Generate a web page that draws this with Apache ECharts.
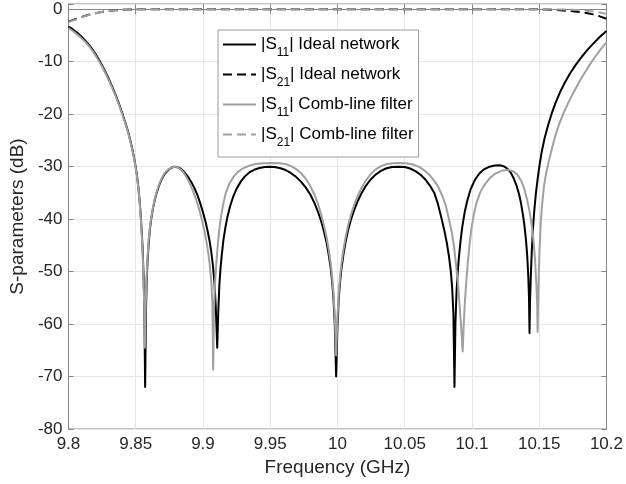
<!DOCTYPE html>
<html>
<head>
<meta charset="utf-8">
<script src="https://cdn.jsdelivr.net/npm/echarts@6/dist/echarts.min.js"></script>
<style>
html,body{margin:0;padding:0;background:#fff;}
#chart{width:626px;height:484px;}
</style>
</head>
<body>
<div id="chart"></div>
<script>
// ---- Data ----
const xTicks = [9.8, 9.85, 9.9, 9.95, 10, 10.05, 10.1, 10.15, 10.2];
const yTicks = [-80, -70, -60, -50, -40, -30, -20, -10, 0];

const seriesNames = ['S11 Ideal network', 'S21 Ideal network', 'S11 Comb-line filter', 'S21 Comb-line filter'];

// |S11| ideal network (black solid)
const s11IdealF = [
  9.800,9.8025,9.805,9.8075,9.810,9.8125,9.815,9.8175,9.820,9.8225,9.825,9.8275,9.830,9.8325,9.835,9.8375,9.840,9.8415,9.843,9.8445,9.846,9.8475,9.849,9.850,9.851,9.852,9.853,9.8538,9.8545,9.8552,9.8558,9.8564,9.857,
  9.8576,9.8582,9.8589,9.8597,9.8605,9.8615,9.8628,9.8642,9.8658,9.8675,9.8695,9.8715,9.874,9.8765,9.8785,9.881,9.8835,9.886,9.8885,9.891,9.8935,9.896,9.898,9.900,9.902,9.9035,9.905,9.9062,9.9074,9.9085,9.9095,9.9106,
  9.9114,9.9122,9.913,9.914,9.9152,9.9166,9.918,9.920,9.9225,9.925,9.928,9.931,9.9345,9.938,9.942,9.946,9.9495,9.953,9.957,9.961,9.965,9.969,9.973,9.9765,9.980,9.983,9.9855,9.988,9.990,9.992,9.9935,9.995,9.996,9.997,9.998,9.999,
  10.000,10.001,10.002,10.003,10.0045,10.006,10.008,10.010,10.0125,10.015,10.018,10.021,10.0245,10.028,10.032,10.036,10.0405,10.0455,10.050,10.054,10.058,10.062,10.0655,10.069,10.072,10.0748,10.0775,10.0795,10.0815,10.083,10.0843,10.0853,10.0862,10.087,
  10.0877,10.0885,10.0893,10.0903,10.0915,10.0928,10.0945,10.0965,10.099,10.102,10.1055,10.109,10.113,10.117,10.1208,10.1238,10.1265,10.129,10.131,10.133,10.135,10.1365,10.1378,10.139,10.1401,10.1411,10.1419,10.1424,10.1428,
  10.1432,10.1438,10.1445,10.1453,10.1463,10.1475,10.149,10.1505,10.152,10.154,10.1565,10.159,10.162,10.1655,10.169,10.173,10.177,10.1815,10.186,10.1905,10.195,10.200];
const s11IdealV = [
  -3.3,-3.7,-4.2,-4.7,-5.3,-6.0,-6.7,-7.55,-8.5,-9.55,-10.7,-11.95,-13.3,-14.75,-16.3,-18.0,-19.8,-21.0,-22.2,-23.5,-25.0,-26.7,-28.6,-30.1,-31.8,-34.0,-36.8,-39.6,-42.5,-46.0,-50.5,-57.0,-72.0,
  -57.5,-51.5,-47.5,-44.5,-42.0,-40.0,-38.0,-36.3,-34.8,-33.5,-32.3,-31.4,-30.7,-30.2,-30.0,-30.1,-30.4,-31.0,-31.8,-32.8,-34.0,-35.5,-37.0,-38.7,-40.6,-42.3,-44.3,-46.3,-48.8,-52.0,-56.5,-64.5,
  -57.5,-52.5,-49.5,-46.8,-44.0,-41.7,-39.8,-37.7,-35.7,-34.2,-32.9,-31.9,-31.1,-30.6,-30.25,-30.05,-30.0,-30.05,-30.25,-30.6,-31.15,-31.9,-32.9,-34.0,-35.4,-37.0,-38.6,-40.5,-42.4,-44.6,-46.8,-49.4,-51.8,-55.0,-60.0,-70.0,
  -60.5,-55.0,-51.8,-49.4,-46.6,-44.4,-42.0,-40.1,-38.2,-36.6,-35.0,-33.7,-32.5,-31.6,-30.85,-30.35,-30.07,-30.0,-30.08,-30.35,-30.85,-31.6,-32.5,-33.7,-35.0,-37.2,-40.0,-42.2,-44.8,-47.3,-50.0,-53.2,-58.0,-72.0,
  -60.0,-54.0,-50.5,-47.3,-44.2,-41.5,-38.8,-36.5,-34.3,-32.6,-31.3,-30.5,-30.0,-29.8,-29.75,-29.95,-30.4,-31.2,-32.2,-33.5,-35.2,-37.0,-39.0,-41.2,-43.8,-47.0,-51.0,-55.0,-61.7,
  -55.5,-50.5,-46.0,-42.0,-38.5,-35.2,-32.0,-29.3,-27.0,-24.6,-22.2,-20.1,-17.95,-15.8,-14.0,-12.2,-10.65,-9.1,-7.7,-6.45,-5.3,-4.15];

// |S21| ideal network (black dashed)
const s21IdealF = [9.800,9.8025,9.805,9.8075,9.810,9.8125,9.815,9.8175,9.820,9.825,9.830,9.835,9.840,9.845,9.850,9.860,9.900,9.950,10.000,10.050,10.100,10.140,10.150,10.155,10.160,10.165,10.170,10.175,10.180,10.185,10.190,10.195,10.200];
const s21IdealV = [-2.4,-2.13,-1.9,-1.66,-1.45,-1.24,-1.05,-0.89,-0.75,-0.5,-0.32,-0.2,-0.11,-0.05,-0.02,0,0,0,0,0,0,0,-0.02,-0.05,-0.1,-0.17,-0.27,-0.38,-0.52,-0.72,-0.98,-1.35,-1.8];

// |S11| comb-line filter (grey solid)
const s11CombF = [
  9.800,9.8025,9.805,9.8075,9.810,9.8125,9.815,9.8175,9.820,9.8225,9.825,9.8275,9.830,9.8325,9.835,9.8375,9.840,9.8415,9.843,9.8445,9.846,9.8475,9.849,9.850,9.851,9.852,9.853,9.8538,9.8545,9.8552,9.8558,9.8563,9.8568,
  9.8574,9.858,9.8588,9.8596,9.8605,9.8615,9.8628,9.8642,9.8658,9.8675,9.8695,9.8715,9.874,9.8765,9.879,9.8812,9.8835,9.8858,9.888,9.8902,9.8925,9.8948,9.897,9.8985,9.900,9.9015,9.903,9.9042,9.9053,9.9062,9.907,9.9076,
  9.9082,9.909,9.9099,9.9109,9.912,9.9133,9.915,9.917,9.9195,9.9225,9.926,9.930,9.9345,9.939,9.945,9.951,9.957,9.962,9.966,9.970,9.9735,9.977,9.980,9.983,9.9855,9.988,9.990,9.992,9.9935,9.995,9.996,9.997,9.998,9.999,
  10.000,10.001,10.002,10.003,10.0045,10.006,10.008,10.010,10.0125,10.015,10.018,10.021,10.0245,10.028,10.032,10.036,10.041,10.047,10.052,10.057,10.061,10.065,10.0685,10.072,10.075,10.078,10.0805,10.0829,10.085,10.0867,10.0882,10.0895,10.0907,10.0918,10.0931,
  10.0939,10.0948,10.0958,10.097,10.0983,10.0997,10.1015,10.1035,10.106,10.108,10.111,10.114,10.1175,10.122,10.1268,10.1305,10.134,10.1368,10.139,10.141,10.1428,10.1444,10.1458,10.147,10.1479,10.1485,10.1488,
  10.1492,10.1497,10.1503,10.1512,10.1523,10.1537,10.1553,10.1572,10.1595,10.162,10.1648,10.168,10.1715,10.175,10.179,10.183,10.1875,10.1915,10.1955,10.200];
const s11CombV = [
  -3.6,-4.0,-4.5,-5.0,-5.6,-6.25,-6.95,-7.8,-8.75,-9.8,-10.95,-12.2,-13.55,-15.0,-16.55,-18.2,-20.0,-21.2,-22.4,-23.7,-25.2,-26.9,-28.8,-30.3,-32.0,-34.3,-37.1,-40.0,-43.0,-46.8,-51.5,-56.5,-64.5,
  -57.0,-51.5,-47.2,-44.2,-41.7,-39.8,-37.8,-36.1,-34.6,-33.3,-32.1,-31.2,-30.55,-30.15,-30.0,-30.15,-30.55,-31.2,-32.1,-33.2,-34.6,-36.2,-38.0,-39.4,-41.0,-42.8,-44.9,-46.9,-49.3,-52.0,-56.0,-68.7,
  -57.0,-52.0,-48.5,-45.3,-42.3,-39.7,-37.2,-35.0,-33.3,-32.0,-31.0,-30.3,-29.8,-29.5,-29.33,-29.3,-29.35,-29.55,-29.95,-30.6,-31.4,-32.5,-33.8,-35.4,-37.1,-39.2,-41.2,-43.6,-45.8,-48.5,-50.8,-54.0,-58.5,-66.0,
  -58.5,-54.0,-50.8,-48.4,-45.7,-43.5,-41.1,-39.2,-37.2,-35.6,-34.0,-32.7,-31.5,-30.6,-29.95,-29.55,-29.35,-29.3,-29.38,-29.65,-30.1,-30.8,-31.6,-32.7,-33.9,-35.6,-37.4,-40.0,-42.5,-45.3,-48.8,-52.0,-56.0,-59.8,-65.2,
  -60.0,-55.5,-51.8,-48.0,-44.6,-41.6,-39.0,-36.8,-35.0,-34.0,-32.9,-32.0,-31.3,-30.8,-30.6,-30.85,-31.6,-32.8,-34.3,-36.3,-38.5,-41.0,-44.2,-48.0,-52.5,-56.5,-61.5,
  -56.0,-50.5,-45.5,-40.5,-36.8,-33.4,-31.1,-28.9,-26.5,-24.1,-21.9,-19.85,-17.9,-16.1,-14.2,-12.45,-10.6,-9.1,-7.7,-6.3];

// |S21| comb-line filter (grey dashed)
const s21CombF = [9.800,9.8025,9.805,9.8075,9.810,9.8125,9.815,9.8175,9.820,9.825,9.830,9.835,9.840,9.845,9.850,9.860,9.900,9.950,10.000,10.050,10.100,10.150,10.160,10.165,10.170,10.175,10.180,10.185,10.190,10.195,10.200];
const s21CombV = [-2.5,-2.22,-2.0,-1.74,-1.5,-1.29,-1.1,-0.93,-0.78,-0.52,-0.33,-0.21,-0.11,-0.05,-0.02,0,0,0,0,0,0,0,-0.02,-0.04,-0.07,-0.11,-0.18,-0.28,-0.42,-0.62,-0.88];

// ---- Chart ----
const pairs = (f, v) => f.map((x, i) => [x, v[i]]);
const FONT = '"Liberation Sans", Arial, Helvetica, sans-serif';
const BLACK = '#000000';
const GREY = '#a0a0a0';
const AXIS = '#858585';
const GRID = '#e6e6e6';

const legendLabels = {
  'S11 Ideal network': '|S{s|11}| Ideal network',
  'S21 Ideal network': '|S{s|21}| Ideal network',
  'S11 Comb-line filter': '|S{s|11}| Comb-line filter',
  'S21 Comb-line filter': '|S{s|21}| Comb-line filter'
};

const chart = echarts.init(document.getElementById('chart'), null, {renderer: 'canvas'});
const xMin = xTicks[0], xMax = xTicks[xTicks.length - 1];
const yMin = yTicks[0];

const tickFmtX = v => String(+v.toFixed(2));
const tickFmtY = v => (v > 0.5 ? '' : String(Math.round(v)));

function mkLine(name, data, color, dashed) {
  return {
    name, type: 'line', data, xAxisIndex: 0, yAxisIndex: 0,
    showSymbol: false, symbol: 'none', symbolSize: 0, sampling: null, clip: true,
    smooth: false,
    lineStyle: {color, width: 2, type: dashed ? [9, 5] : 'solid', join: 'round', cap: 'butt'},
    itemStyle: {color},
    z: 3
  };
}

chart.setOption({
  animation: false,
  backgroundColor: '#ffffff',
  textStyle: {fontFamily: FONT},
  grid: {left: 62.5, right: 18, top: 4, bottom: 55, show: true, borderColor: AXIS, borderWidth: 1, backgroundColor: 'transparent'},
  xAxis: [{
    type: 'value', min: xMin, max: xMax, interval: 0.05,
    name: 'Frequency (GHz)', nameLocation: 'middle', nameGap: 27,
    nameTextStyle: {fontSize: 19, color: '#262626', fontFamily: FONT},
    axisLine: {show: true, lineStyle: {color: AXIS, width: 1}},
    axisTick: {show: true, inside: true, length: 5, lineStyle: {color: AXIS}},
    axisLabel: {fontSize: 17, color: '#262626', margin: 7, formatter: tickFmtX, fontFamily: FONT},
    splitLine: {show: true, lineStyle: {color: GRID, width: 1}}
  }, {
    type: 'value', min: xMin, max: xMax, interval: 0.05, position: 'top',
    axisLine: {show: true, lineStyle: {color: AXIS}},
    axisTick: {show: true, inside: true, length: 5, lineStyle: {color: AXIS}},
    axisLabel: {show: false}, splitLine: {show: false}
  }],
  yAxis: [{
    type: 'value', min: yMin, max: 1, interval: 10,
    name: 'S-parameters (dB)', nameLocation: 'middle', nameGap: 40, nameRotate: 90,
    nameTextStyle: {fontSize: 19, color: '#262626', fontFamily: FONT},
    axisLine: {show: true, lineStyle: {color: AXIS, width: 1}},
    axisTick: {show: true, inside: true, length: 5, lineStyle: {color: AXIS}},
    axisLabel: {fontSize: 17, color: '#262626', margin: 6, formatter: tickFmtY, fontFamily: FONT},
    splitLine: {show: true, lineStyle: {color: GRID, width: 1}}
  }, {
    type: 'value', min: yMin, max: 1, interval: 10, position: 'right',
    axisLine: {show: true, lineStyle: {color: AXIS}},
    axisTick: {show: true, inside: true, length: 5, lineStyle: {color: AXIS}},
    axisLabel: {show: false}, splitLine: {show: false}
  }],
  legend: {
    show: true, orient: 'vertical', left: 218, top: 30,
    data: seriesNames, selectedMode: false,
    itemWidth: 33, itemHeight: 14, itemGap: 1,
    padding: [0, 5, 8, 4],
    itemStyle: {opacity: 0, borderWidth: 0},
    backgroundColor: '#ffffff', borderColor: '#9a9a9a', borderWidth: 1, borderRadius: 0,
    formatter: name => legendLabels[name],
    textStyle: {
      fontSize: 17, color: '#000', fontFamily: FONT, lineHeight: 17,
      rich: {s: {fontSize: 12, lineHeight: 12, padding: [17, 0, 0, 0], fontFamily: FONT, color: '#000'}}
    }
  },
  series: [
    mkLine(seriesNames[0], pairs(s11IdealF, s11IdealV), BLACK, false),
    mkLine(seriesNames[1], pairs(s21IdealF, s21IdealV), BLACK, true),
    mkLine(seriesNames[2], pairs(s11CombF, s11CombV), GREY, false),
    mkLine(seriesNames[3], pairs(s21CombF, s21CombV), GREY, true)
  ]
});
</script>
</body>
</html>
